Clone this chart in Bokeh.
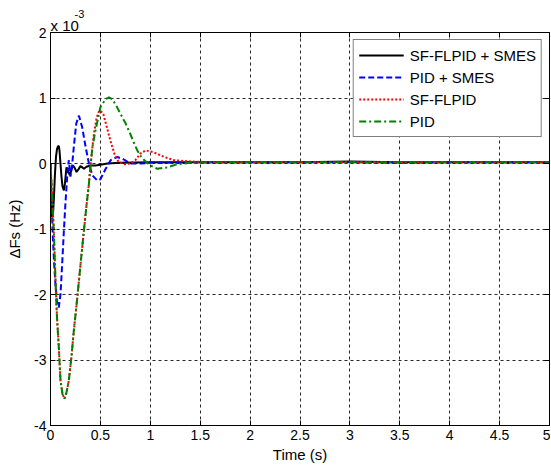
from bokeh.plotting import figure
from bokeh.models import Legend, LegendItem, LinearAxis, FixedTicker, Title, Range1d
from bokeh.embed import file_html
from bokeh.resources import INLINE

# ---- data (values in units of 1e-3 Hz) ----
t_black = [0, 0.005, 0.015, 0.025, 0.035, 0.045, 0.055, 0.065, 0.075, 0.083, 0.09, 0.10, 0.11, 0.12,
           0.134, 0.145, 0.16, 0.175, 0.194, 0.21, 0.224, 0.24, 0.261, 0.28, 0.30, 0.32, 0.335, 0.36,
           0.40, 0.45, 0.50, 0.57, 0.7, 1.0, 1.5, 2.0, 2.5, 3.0, 3.5, 4.0, 4.5, 5.0]
y_black = [0, -0.5, -0.82, -0.78, -0.5, -0.15, 0.1, 0.22, 0.26, 0.27, 0.2, 0.0, -0.2, -0.35,
           -0.41, -0.3, -0.06, -0.1, -0.18, -0.1, -0.03, -0.06, -0.13, -0.09, -0.04, -0.06, -0.08, -0.05,
           -0.03, -0.03, -0.02, 0.0, 0.01, 0.02, 0.02, 0.02, 0.02, 0.03, 0.02, 0.02, 0.02, 0.02]

t_blue = [0, 0.01, 0.02, 0.035, 0.05, 0.065, 0.083, 0.10, 0.117, 0.135, 0.15, 0.165, 0.175, 0.184,
          0.20, 0.215, 0.234, 0.258, 0.285, 0.318, 0.351, 0.385, 0.419, 0.469, 0.50, 0.553, 0.603,
          0.67, 0.737, 0.80, 0.9, 1.0, 1.5, 2.0, 2.5, 3.0, 3.5, 4.0, 4.5, 5.0]
y_blue = [0, -0.5, -1.0, -1.5, -1.85, -2.1, -2.2, -2.0, -1.53, -1.0, -0.6, -0.25, -0.05, 0.05,
          -0.2, -0.05, 0.26, 0.61, 0.73, 0.55, 0.26, 0.0, -0.18, -0.26, -0.24, -0.08, 0.05,
          0.1, 0.06, 0.0, 0.0, 0.01, 0.02, 0.02, 0.02, 0.02, 0.01, 0.02, 0.02, 0.02]

t_red = [0, 0.01, 0.02, 0.033, 0.05, 0.065, 0.083, 0.10, 0.12, 0.14, 0.16, 0.184, 0.21, 0.234,
         0.26, 0.285, 0.31, 0.335, 0.36, 0.385, 0.40, 0.42, 0.435, 0.46, 0.48, 0.50, 0.53, 0.56,
         0.60, 0.64, 0.68, 0.74, 0.80, 0.85, 0.90, 0.955, 1.035, 1.14, 1.24, 1.41, 1.6, 2.0, 2.5,
         3.0, 3.5, 4.0, 4.5, 5.0]
y_red = [0, -0.3, -0.6, -1.02, -1.79, -2.35, -2.8, -3.31, -3.52, -3.59, -3.5, -3.31, -2.95, -2.55,
         -2.17, -1.79, -1.4, -1.02, -0.65, -0.31, -0.05, 0.25, 0.45, 0.68, 0.78, 0.81, 0.75, 0.58,
         0.35, 0.15, 0.03, -0.01, 0.0, 0.05, 0.15, 0.2, 0.17, 0.1, 0.05, 0.03, 0.02, 0.02, 0.02,
         0.02, 0.02, 0.02, 0.02, 0.02]

t_green = [0, 0.01, 0.02, 0.033, 0.05, 0.065, 0.083, 0.10, 0.12, 0.14, 0.16, 0.184, 0.21, 0.234,
           0.26, 0.285, 0.31, 0.335, 0.36, 0.385, 0.40, 0.42, 0.45, 0.50, 0.55, 0.586, 0.62, 0.66,
           0.70, 0.75, 0.80, 0.84, 0.87, 0.90, 0.94, 1.0, 1.07, 1.17, 1.27, 1.4, 1.6, 2.0, 2.5,
           3.0, 3.5, 4.0, 4.5, 5.0]
y_green = [0, -0.3, -0.6, -1.02, -1.79, -2.35, -2.8, -3.31, -3.52, -3.59, -3.5, -3.31, -2.95, -2.55,
           -2.17, -1.79, -1.4, -1.02, -0.65, -0.31, -0.05, 0.25, 0.5, 0.86, 0.98, 1.01, 0.98, 0.88,
           0.76, 0.62, 0.45, 0.3, 0.2, 0.12, 0.05, -0.03, -0.08, -0.06, -0.01, 0.01, 0.02, 0.02, 0.02,
           0.02, 0.02, 0.02, 0.02, 0.02]

series_names = ["SF-FLPID + SMES", "PID + SMES", "SF-FLPID", "PID"]

x_ticks = [0, 0.5, 1, 1.5, 2, 2.5, 3, 3.5, 4, 4.5, 5]
x_tick_labels = ["0", "0.5", "1", "1.5", "2", "2.5", "3", "3.5", "4", "4.5", "5"]
y_ticks = [-4, -3, -2, -1, 0, 1, 2]
y_tick_labels = ["-4", "-3", "-2", "-1", "0", "1", "2"]

FONT = "Liberation Sans"

p = figure(width=550, height=466, output_backend="svg", toolbar_location=None, title=None,
           x_range=Range1d(0, 5), y_range=Range1d(-4, 2),
           min_border_left=50, min_border_right=1, min_border_top=32, min_border_bottom=41)
p.background_fill_color = "white"
p.border_fill_color = "white"
p.outline_line_color = "black"
p.outline_line_width = 1

r1 = p.line(t_black, y_black, line_color="black", line_width=2)
r2 = p.line(t_blue, y_blue, line_color="#0000ff", line_width=2, line_dash="6 3")
r3 = p.line(t_red, y_red, line_color="#ff0000", line_width=2, line_dash="2 2")
r4 = p.line(t_green, y_green, line_color="#008000", line_width=2, line_dash="7 3 2 3")

# axes
for ax, ticks, labels in ((p.xaxis[0], x_ticks, x_tick_labels), (p.yaxis[0], y_ticks, y_tick_labels)):
    ax.ticker = FixedTicker(ticks=ticks)
    ax.major_label_overrides = {t: l for t, l in zip(ticks, labels)}
    ax.major_tick_in = 5
    ax.major_tick_out = 0
    ax.minor_tick_in = 0
    ax.minor_tick_out = 0
    ax.major_label_standoff = 4
    ax.major_label_text_font = FONT
    ax.major_label_text_font_size = "14px"
    ax.major_label_text_color = "black"
    ax.axis_line_color = "black"
    ax.major_tick_line_color = "black"
    ax.axis_label_text_font = FONT
    ax.axis_label_text_font_size = "15px"
    ax.axis_label_text_font_style = "normal"
    ax.axis_label_text_color = "black"

p.xaxis.axis_label = "Time (s)"
p.xaxis.axis_label_standoff = 3
p.yaxis.axis_label = "ΔFs (Hz)"
p.yaxis.axis_label_standoff = 8

top_ax = LinearAxis(ticker=FixedTicker(ticks=x_ticks),
                    major_label_overrides={t: "" for t in x_ticks},
                    major_label_text_font_size="1px", major_label_standoff=0,
                    major_tick_in=5, major_tick_out=0, minor_tick_in=0, minor_tick_out=0,
                    axis_line_color="black")
right_ax = LinearAxis(ticker=FixedTicker(ticks=y_ticks),
                      major_label_overrides={t: "" for t in y_ticks},
                      major_label_text_font_size="1px", major_label_standoff=0,
                      major_tick_in=5, major_tick_out=0, minor_tick_in=0, minor_tick_out=0,
                      axis_line_color="black")
p.add_layout(top_ax, "above")
p.add_layout(right_ax, "right")

# exponent "x 10^-3" as two stacked titles
p.add_layout(Title(text="x 10", align="left", offset=0, standoff=-2,
                   text_font=FONT, text_font_size="15px", text_font_style="normal",
                   text_color="black"), "above")
p.add_layout(Title(text="-3", align="left", offset=24, standoff=-4,
                   text_font=FONT, text_font_size="11px", text_font_style="normal",
                   text_color="black"), "above")

# grid
p.xgrid.ticker = FixedTicker(ticks=x_ticks)
p.ygrid.ticker = FixedTicker(ticks=y_ticks)
for g in (p.xgrid[0], p.ygrid[0]):
    g.grid_line_color = "black"
    g.grid_line_alpha = 0.85
    g.grid_line_dash = "3 3"
    g.grid_line_width = 1

legend = Legend(items=[LegendItem(label=n, renderers=[r]) for n, r in zip(series_names, [r1, r2, r3, r4])],
                location="top_right", margin=7, padding=5, spacing=2,
                glyph_width=45, glyph_height=20, label_height=20, label_standoff=6,
                label_text_font=FONT, label_text_font_size="15px", label_text_color="black",
                border_line_color="black", border_line_width=1,
                background_fill_color="white", background_fill_alpha=1.0)
p.add_layout(legend)

open("out.html", "w").write(file_html(p, INLINE))
